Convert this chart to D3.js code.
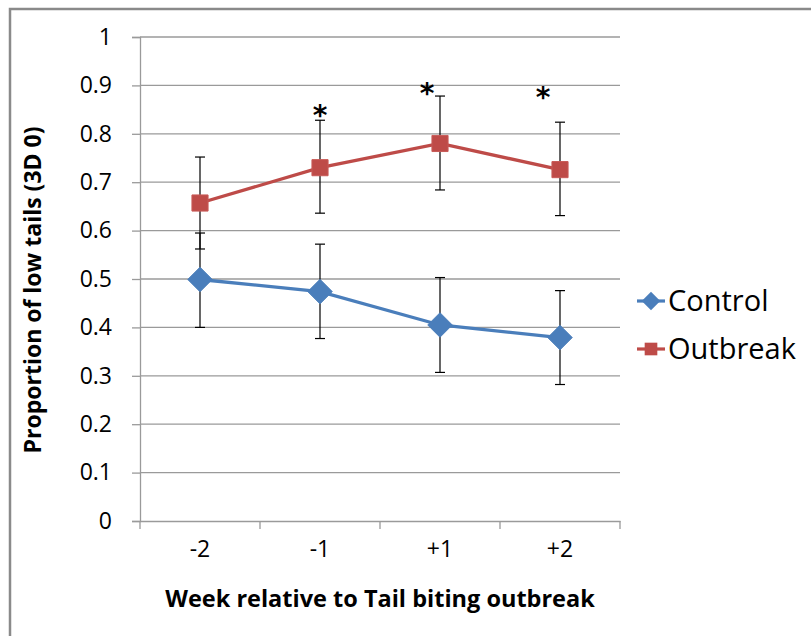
<!DOCTYPE html>
<html>
<head>
<meta charset="utf-8">
<script src="https://cdn.jsdelivr.net/npm/d3@7"></script>
<style>
  html, body { margin: 0; padding: 0; background: #fff; }
  svg { display: block; }
</style>
</head>
<body>
<svg id="chart" width="811" height="636"></svg>
<script>
// ---- data ----
const categories = ["-2", "-1", "+1", "+2"];
const controlValues = [0.499, 0.474, 0.405, 0.379];
const controlUpper  = [0.595, 0.572, 0.503, 0.476];
const controlLower  = [0.400, 0.377, 0.307, 0.282];
const outbreakValues = [0.657, 0.730, 0.780, 0.726];
const outbreakUpper  = [0.752, 0.828, 0.878, 0.824];
const outbreakLower  = [0.562, 0.636, 0.684, 0.631];
const significance = ["", "*", "*", "*"];
const yTicks = [0, 0.1, 0.2, 0.3, 0.4, 0.5, 0.6, 0.7, 0.8, 0.9, 1];
const seriesNames = ["Control", "Outbreak"];
const xTitle = "Week relative to Tail biting outbreak";
const yTitle = "Proportion of low tails (3D 0)";

// ---- layout ----
const svg = d3.select("#chart");
const font = "'Open Sans', 'Noto Sans', sans-serif";
const plot = { left: 140, right: 620, top: 37, bottom: 521 };
const colors = { Control: "#4A7EBB", Outbreak: "#BE4B48" };

// outer frame
svg.append("rect").attr("x", 10).attr("y", 9).attr("width", 830).attr("height", 660)
  .attr("fill", "none").attr("stroke", "#8a8a8a").attr("stroke-width", 2.5);

const x = d3.scaleBand().domain(categories).range([plot.left, plot.right]).padding(0);
const y = d3.scaleLinear().domain([0, 1]).range([plot.bottom, plot.top]);
const cx = d => x(d) + x.bandwidth() / 2;

// custom square diamond symbol
const diamond = {
  draw(ctx, size) {
    const r = Math.sqrt(size / 2);
    ctx.moveTo(0, -r); ctx.lineTo(r, 0); ctx.lineTo(0, r); ctx.lineTo(-r, 0); ctx.closePath();
  }
};

// gridlines
svg.append("g").selectAll("line").data(yTicks.filter(t => t > 0)).join("line")
  .attr("x1", plot.left).attr("x2", plot.right)
  .attr("y1", d => y(d)).attr("y2", d => y(d))
  .attr("stroke", "#9a9a9a").attr("stroke-width", 1.3);

// y axis
const yAxis = d3.axisLeft(y).tickValues(yTicks).tickSize(8).tickPadding(20)
  .tickFormat(d => d3.format("")(+d.toFixed(1)));
const gy = svg.append("g").attr("transform", `translate(${plot.left},0)`).call(yAxis);
gy.select(".domain").attr("stroke", "#9a9a9a").attr("stroke-width", 1.3);
gy.selectAll(".tick line").attr("stroke", "#9a9a9a").attr("stroke-width", 1.3);
gy.selectAll(".tick text").attr("font-family", font).attr("font-size", 23).attr("fill", "#000");

// x axis
const xAxis = d3.axisBottom(x).tickSize(0).tickPadding(20);
const gx = svg.append("g").attr("transform", `translate(0,${plot.bottom})`).call(xAxis);
gx.select(".domain").attr("stroke", "#9a9a9a").attr("stroke-width", 1.3);
gx.selectAll(".tick text").attr("font-family", font).attr("font-size", 23).attr("fill", "#000");
// category boundary ticks
const bounds = categories.map(c => x(c)).concat([x(categories[categories.length - 1]) + x.bandwidth()]);
gx.selectAll(".bound").data(bounds).join("line").attr("class", "bound")
  .attr("x1", d => d).attr("x2", d => d).attr("y1", 0).attr("y2", 8)
  .attr("stroke", "#9a9a9a").attr("stroke-width", 1.3);

// axis titles
svg.append("text").attr("x", 380).attr("y", 607).attr("text-anchor", "middle")
  .attr("font-family", font).attr("font-weight", "bold").attr("font-size", 23.5)
  .text(xTitle);
svg.append("text").attr("transform", "translate(41,290) rotate(-90)").attr("text-anchor", "middle")
  .attr("font-family", font).attr("font-weight", "bold").attr("font-size", 23)
  .text(yTitle);

// series
const series = [
  { name: "Control", values: controlValues, upper: controlUpper, lower: controlLower, shape: diamond, size: 300, lsize: 170 },
  { name: "Outbreak", values: outbreakValues, upper: outbreakUpper, lower: outbreakLower, shape: d3.symbolSquare, size: 260, lsize: 160 }
];

const line = d3.line().x(d => cx(d.c)).y(d => y(d.v));

series.forEach(s => {
  const pts = categories.map((c, i) => ({ c, v: s.values[i], hi: s.upper[i], lo: s.lower[i] }));
  const g = svg.append("g");
  g.append("path").datum(pts).attr("d", line).attr("fill", "none")
    .attr("stroke", colors[s.name]).attr("stroke-width", 3.3);
  // error bars
  const eb = g.selectAll(".eb").data(pts).join("g");
  eb.append("line").attr("x1", d => cx(d.c)).attr("x2", d => cx(d.c))
    .attr("y1", d => y(d.hi)).attr("y2", d => y(d.lo)).attr("stroke", "#000").attr("stroke-width", 1.2);
  eb.append("line").attr("x1", d => cx(d.c) - 5).attr("x2", d => cx(d.c) + 5)
    .attr("y1", d => y(d.hi)).attr("y2", d => y(d.hi)).attr("stroke", "#000").attr("stroke-width", 1.2);
  eb.append("line").attr("x1", d => cx(d.c) - 5).attr("x2", d => cx(d.c) + 5)
    .attr("y1", d => y(d.lo)).attr("y2", d => y(d.lo)).attr("stroke", "#000").attr("stroke-width", 1.2);
  // markers
  g.selectAll(".m").data(pts).join("path")
    .attr("transform", d => `translate(${cx(d.c)},${y(d.v)})`)
    .attr("d", d3.symbol().type(s.shape).size(s.size))
    .attr("fill", colors[s.name]).attr("stroke", s.name === "Outbreak" ? "#C85A57" : colors[s.name]).attr("stroke-width", 1);
});

// significance asterisks (offsets relative to outbreak upper bars are layout only)
const astDx = [0, 0, -13, -17];
const astDy = [0, 5, 7, -15];
svg.append("g").selectAll("text").data(categories.map((c, i) => ({ c, s: significance[i], i })))
  .join("text")
  .attr("x", d => cx(d.c) + astDx[d.i])
  .attr("y", d => y(outbreakUpper[d.i]) + astDy[d.i])
  .attr("text-anchor", "middle")
  .attr("font-family", "'DejaVu Sans', sans-serif").attr("font-size", 28).attr("font-weight", "bold")
  .text(d => d.s);

// legend
const legend = svg.append("g");
series.forEach((s, i) => {
  const ly = 301 + i * 48;
  const lg = legend.append("g");
  lg.append("line").attr("x1", 637).attr("x2", 665).attr("y1", ly).attr("y2", ly)
    .attr("stroke", colors[s.name]).attr("stroke-width", 3.2);
  lg.append("path").attr("transform", `translate(651,${ly})`)
    .attr("d", d3.symbol().type(s.shape).size(s.lsize))
    .attr("fill", colors[s.name]);
  lg.append("text").attr("x", 668).attr("y", ly + 10)
    .attr("font-family", font).attr("font-size", 29).attr("fill", "#000").text(s.name);
});
</script>
</body>
</html>
